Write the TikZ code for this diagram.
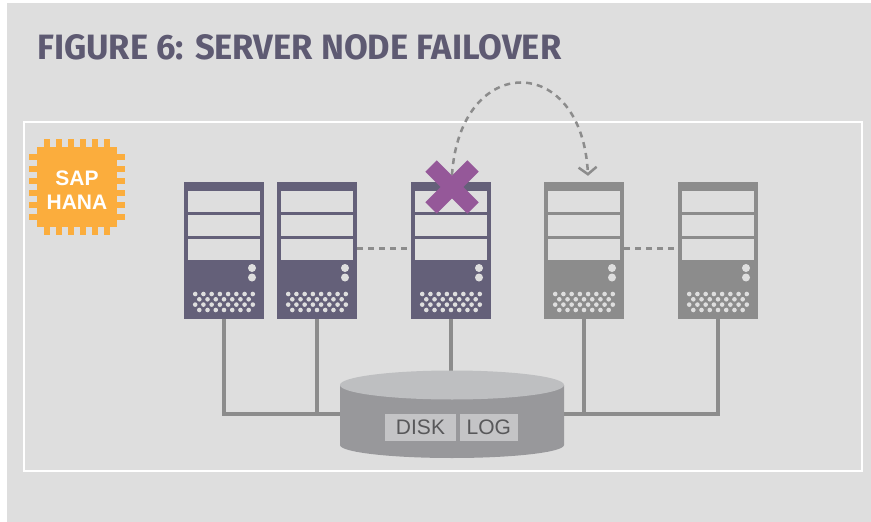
\documentclass[tikz,border=0pt]{standalone}
\usepackage{fontspec}
\setmainfont{Liberation Sans}
\newfontfamily\titlefont{Fira Sans}
\usetikzlibrary{arrows.meta}
\definecolor{bg}{HTML}{DEDEDE}
\definecolor{titlec}{HTML}{5E5A72}
\definecolor{darksrv}{HTML}{646079}
\definecolor{graysrv}{HTML}{8C8C8C}
\definecolor{linkc}{HTML}{8C8C8C}
\definecolor{cylbody}{HTML}{98989B}
\definecolor{cyltop}{HTML}{BEBFC1}
\definecolor{lblfill}{HTML}{C4C4C6}
\definecolor{lbltext}{HTML}{58585A}
\definecolor{chipc}{HTML}{FBAD3D}
\definecolor{xcol}{HTML}{955899}
\tikzset{
  srv/.style={rectangle, minimum width=80pt, minimum height=137pt, inner sep=0pt, draw=none},
  bayc/.style={fill=bg},
  link/.style={draw=linkc, line width=4pt},
  dashl/.style={draw=linkc, line width=2.5pt, dash pattern=on 6pt off 5pt},
  xmk/.style={draw=xcol, line width=16pt, line cap=butt},
  lbl/.style={rectangle, fill=lblfill, text=lbltext, inner sep=0pt, minimum height=27pt, font=\fontsize{21}{21}\selectfont},
}
\newcommand\drawserver[3]{%
  \node[srv, fill=#3] (#1) at (#2+40,250.5) {};
  \begin{scope}[shift={(#2,182)}]
    \foreach \yy in {9,33,57}{\fill[bayc] (4,\yy) rectangle (76,\yy+21);}
    \fill[bayc] (68,86) circle (4pt) (68,95.5) circle (4pt);
    \foreach \i in {0,...,7}{\fill[bayc] (11.2+8.23*\i,112) circle (2.3pt) (11.2+8.23*\i,122.6) circle (2.3pt);}
    \foreach \i in {0,...,6}{\fill[bayc] (15.3+8.23*\i,117.3) circle (2.3pt) (15.3+8.23*\i,128) circle (2.3pt);}
  \end{scope}}
\begin{document}
\begin{tikzpicture}[x=1pt,y=-1pt]
\useasboundingbox (0,0) rectangle (871,522);
\fill[white] (0,0) rectangle (871,522);
\fill[bg] (7,3) rectangle (871,522);
% title
\node[anchor=north west, inner sep=0pt, text=titlec] (title) at (37,34)
  {\resizebox{524pt}{25pt}{\titlefont\bfseries FIGURE 6: SERVER NODE FAILOVER}};
% frame
\draw[white, line width=2.5pt] (24,122) rectangle (862,471);
% chip
\fill[chipc] (36.7,146.7) rectangle (117.3,227);
\foreach \c in {-30,-18,-6,6,18,30}{
  \fill[chipc] (77+\c-3,138.7) rectangle (77+\c+3,147);
  \fill[chipc] (77+\c-3,226.7) rectangle (77+\c+3,235);
  \fill[chipc] (28.7,186.8+\c-3) rectangle (37,186.8+\c+3);
  \fill[chipc] (117,186.8+\c-3) rectangle (125.3,186.8+\c+3);
}
\node[text=white, align=center, inner sep=0pt, font=\bfseries\fontsize{21}{24.5}\selectfont] (hana) at (77,190.3) {SAP\\HANA};
% servers
\drawserver{s1}{184}{darksrv}
\drawserver{s2}{277}{darksrv}
\drawserver{s3}{411}{darksrv}
\drawserver{s4}{544}{graysrv}
\drawserver{s5}{678}{graysrv}
% links
\coordinate (cylL) at (341,414);
\coordinate (cylR) at (563,414);
\coordinate (cylTop) at (452,380);
\draw[link] (s1.south) |- (cylL);
\draw[link] (s2.south) -- (s2.south |- cylL);
\draw[link] (s3.south) -- (s3.south |- cylTop);
\draw[link] (s4.south) -- (s4.south |- cylR);
\draw[link] (s5.south) |- (cylR);
% storage
\node[inner sep=0pt, minimum width=224pt, minimum height=88pt] (cyl) at (452,414.5) {};
\fill[cylbody] (340,385) -- (340,445) arc[start angle=180, end angle=360, x radius=112pt, y radius=13pt]
  -- (564,385) -- cycle;
\fill[cyltop] (452,385) ellipse[x radius=112pt, y radius=14.5pt];
\node[lbl, minimum width=71pt] (disk) at (420.5,427.5) {DISK};
\node[lbl, minimum width=57.5pt] (log) at (488.75,427.5) {LOG};
% heartbeat dashes
\draw[dashl] ([yshift=2pt]s2.east) -- ([yshift=2pt]s3.west);
\draw[dashl] ([yshift=2pt]s4.east) -- ([yshift=2pt]s5.west);
% failover arrow
\coordinate (xmark) at (452,187);
\draw[dashl, -{Straight Barb[length=7pt,width=18pt]}] ([yshift=12pt]xmark) .. controls (460,52) and (582,52) .. ([xshift=4pt,yshift=6pt]s4.north);
\draw[xmk] (xmark) ++(-21,-21) -- ++(42,42);
\draw[xmk] (xmark) ++(21,-21) -- ++(-42,42);
\end{tikzpicture}
\end{document}
